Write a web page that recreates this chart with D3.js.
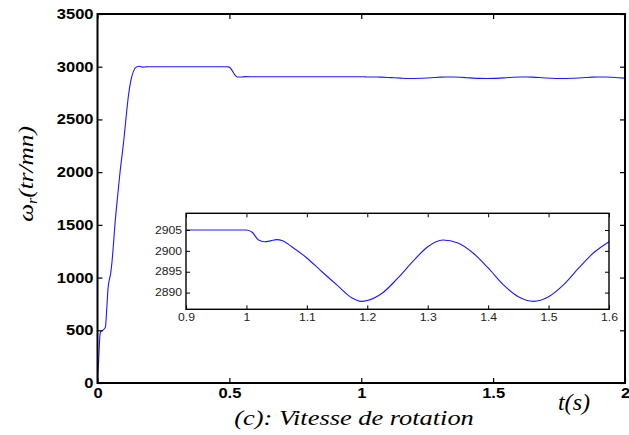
<!DOCTYPE html>
<html><head><meta charset="utf-8">
<script src="https://cdn.jsdelivr.net/npm/d3@7"></script>
<style>
body{margin:0;background:#fff;}
svg{display:block;}
</style></head>
<body>
<svg id="c" width="629" height="435"></svg>
<script>
// time (s)
const tVals = [0,0.005,0.01,0.013,0.02,0.03,0.035,0.04,0.045,0.05,0.055,0.06,0.066,0.075,0.085,0.1,0.11,0.117,0.125,0.13,0.142,0.15,0.16,0.17,0.18,0.19,0.3,0.49,0.5,0.51,0.52,0.53,0.545,0.56,0.6,0.7,0.8,0.9,
  1.0,1.01,1.02,1.03,1.04,1.05,1.06,1.075,1.1,1.125,1.15,1.175,1.19,1.2,1.225,1.25,1.275,1.3,1.325,1.35,1.375,1.4,1.425,1.45,1.475,1.5,1.525,1.55,1.575,1.6,
  1.625,1.65,1.675,1.7,1.725,1.75,1.76,1.775,1.8,1.825,1.85,1.875,1.9,1.925,1.95,1.975,2.0];
// rotor speed (tr/mn)
const wVals = [0,250,470,490,500,530,700,900,980,1040,1150,1300,1500,1740,1990,2310,2560,2720,2850,2905,2985,3000,3004,2996,2997,3000,3000,3000,2996,2965,2925,2903,2902,2906,2905,2905,2905,2905,
  2905.0,2904.4,2902.6,2902.2,2902.4,2902.7,2902.4,2901.0,2898.3,2895.0,2891.8,2888.7,2887.9,2888.1,2889.9,2893.4,2897.4,2901.0,2902.6,2901.9,2899.5,2895.9,2891.9,2889.0,2887.9,2889.0,2891.9,2895.9,2899.6,2902.2,
  2902.6,2900.8,2897.5,2893.5,2890.0,2888.1,2887.9,2888.2,2889.9,2893.4,2897.4,2901.0,2902.6,2901.9,2899.5,2896.0,2891.9];

const xTicks = [0,0.5,1,1.5,2];
const yTicks = [0,500,1000,1500,2000,2500,3000,3500];
const insetXTicks = [0.9,1.0,1.1,1.2,1.3,1.4,1.5,1.6];
const insetYTicks = [2890,2895,2900,2905];

const data = tVals.map((t,i)=>({t, w:wVals[i]}));
const svg = d3.select("#c");

const x = d3.scaleLinear().domain([0,2]).range([97.5,625]);
const y = d3.scaleLinear().domain([0,3500]).range([383,14]);

const blue = "#1a1aff";
const sans = "'Liberation Sans', Arial, sans-serif";
const serif = "'Liberation Serif', 'Times New Roman', serif";

function stretch(sel, s){
  sel.selectAll(".tick text").each(function(){
    const tx = +this.getAttribute("x") || 0;
    d3.select(this).attr("x",0).attr("transform",`translate(${tx},0) scale(${s},1)`);
  });
}

// main line
svg.append("path").datum(data)
  .attr("fill","none").attr("stroke",blue).attr("stroke-width",1.1)
  .attr("d", d3.line().x(d=>x(d.t)).y(d=>y(d.w)).curve(d3.curveMonotoneX));

// axes
const fmtX = d => d===0?"0":String(d);
const gB = svg.append("g").attr("transform",`translate(0,${y(0)})`)
  .call(d3.axisBottom(x).tickValues(xTicks).tickFormat(fmtX).tickSize(-5).tickSizeOuter(0).tickPadding(5));
const gL = svg.append("g").attr("transform",`translate(${x(0)},0)`)
  .call(d3.axisLeft(y).tickValues(yTicks).tickFormat(d3.format("d")).tickSize(-5).tickSizeOuter(0).tickPadding(4));
const gT = svg.append("g").attr("transform",`translate(0,${y(3500)})`)
  .call(d3.axisTop(x).tickValues(xTicks).tickFormat("").tickSize(-5).tickSizeOuter(0));
const gR = svg.append("g").attr("transform",`translate(${x(2)},0)`)
  .call(d3.axisRight(y).tickValues(yTicks).tickFormat("").tickSize(-5).tickSizeOuter(0));
[gB,gL,gT,gR].forEach(g=>{
  g.select(".domain").remove();
  g.selectAll(".tick line").attr("stroke","#000").attr("stroke-width",1.2);
});
[gB,gL].forEach(g=>{
  g.selectAll(".tick text").attr("font-family",sans).attr("font-weight","bold").attr("font-size",14).attr("fill","#000");
  stretch(g,1.18);
});
svg.append("rect").attr("x",x(0)).attr("y",y(3500)).attr("width",x(2)-x(0)).attr("height",y(0)-y(3500))
  .attr("fill","none").attr("stroke","#000").attr("stroke-width",2);

// inset
const ix = d3.scaleLinear().domain([0.9,1.6]).range([186,609]);
const iy = d3.scaleLinear().domain([2886,2909]).range([309.3,213.3]);
svg.append("rect").attr("x",ix(0.9)).attr("y",iy(2909)).attr("width",ix(1.6)-ix(0.9)).attr("height",iy(2886)-iy(2909))
  .attr("fill","#fff");
const idata = data.filter(d=>d.t>=0.9 && d.t<=1.6);
svg.append("path").datum(idata)
  .attr("fill","none").attr("stroke",blue).attr("stroke-width",1.1)
  .attr("d", d3.line().x(d=>ix(d.t)).y(d=>iy(d.w)).curve(d3.curveMonotoneX));
const fmtIX = d => d===1?"1":d3.format(".1f")(d);
const iB = svg.append("g").attr("transform",`translate(0,${iy(2886)})`)
  .call(d3.axisBottom(ix).tickValues(insetXTicks).tickFormat(fmtIX).tickSize(-4).tickSizeOuter(0).tickPadding(5));
const iL = svg.append("g").attr("transform",`translate(${ix(0.9)},0)`)
  .call(d3.axisLeft(iy).tickValues(insetYTicks).tickFormat(d3.format("d")).tickSize(-4).tickSizeOuter(0).tickPadding(4));
const iT = svg.append("g").attr("transform",`translate(0,${iy(2909)})`)
  .call(d3.axisTop(ix).tickValues(insetXTicks).tickFormat("").tickSize(-4).tickSizeOuter(0));
const iR = svg.append("g").attr("transform",`translate(${ix(1.6)},0)`)
  .call(d3.axisRight(iy).tickValues(insetYTicks).tickFormat("").tickSize(-4).tickSizeOuter(0));
[iB,iL,iT,iR].forEach(g=>{
  g.select(".domain").remove();
  g.selectAll(".tick line").attr("stroke","#000").attr("stroke-width",1);
});
[iB,iL].forEach(g=>{
  g.selectAll(".tick text").attr("font-family",sans).attr("font-size",10).attr("fill","#222");
  stretch(g,1.22);
});
svg.append("rect").attr("x",ix(0.9)).attr("y",iy(2909)).attr("width",ix(1.6)-ix(0.9)).attr("height",iy(2886)-iy(2909))
  .attr("fill","none").attr("stroke","#000").attr("stroke-width",1.4);

// labels
const yl = svg.append("text").attr("transform","translate(33,174) rotate(-90) scale(1.15,1)")
  .attr("text-anchor","middle").attr("font-family",serif).attr("font-style","italic").attr("font-size",22).attr("fill","#000");
yl.append("tspan").text("ω");
yl.append("tspan").attr("font-size",14).attr("dy",4).text("r");
yl.append("tspan").attr("dy",-4).text("(tr/mn)");

svg.append("text").attr("transform","translate(574,410) scale(1.05,1)").attr("text-anchor","middle")
  .attr("font-family",serif).attr("font-style","italic").attr("font-size",23).attr("fill","#000").text("t(s)");
svg.append("text").attr("transform","translate(354,425) scale(1.2,1)").attr("text-anchor","middle")
  .attr("font-family",serif).attr("font-style","italic").attr("font-size",22).attr("fill","#000").text("(c): Vitesse de rotation");
</script>
</body></html>
